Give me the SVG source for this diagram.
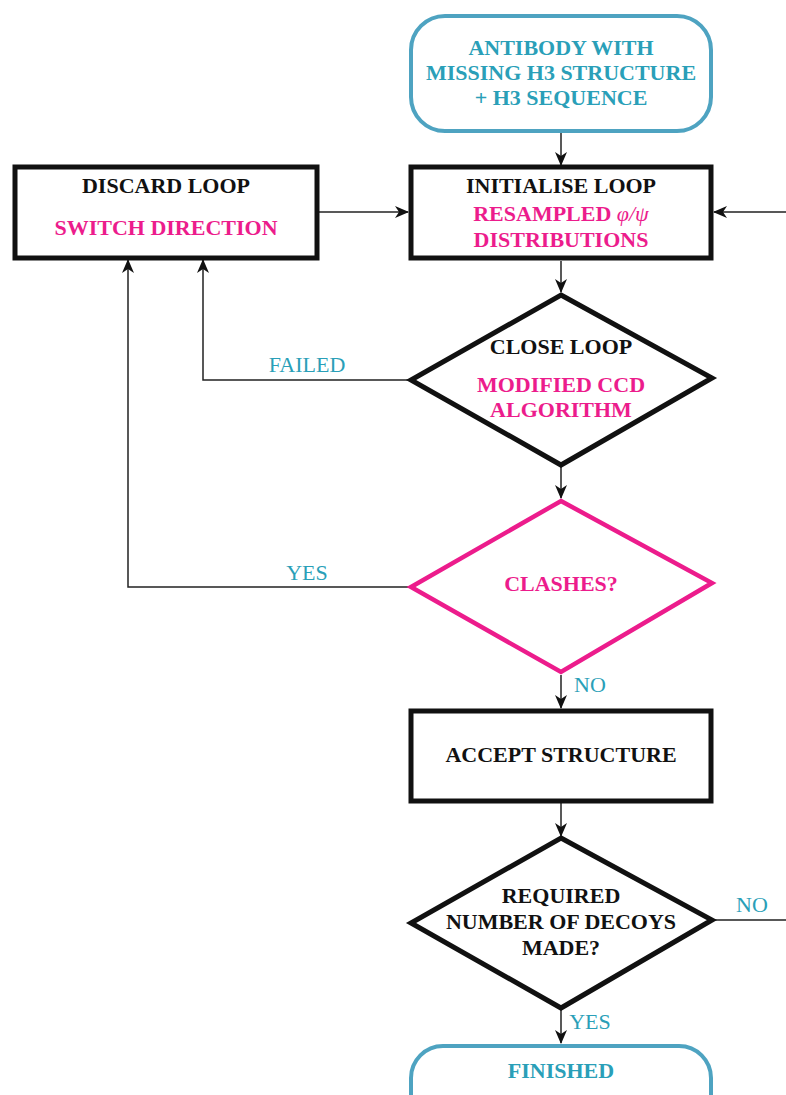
<svg xmlns="http://www.w3.org/2000/svg" width="786" height="1095" viewBox="0 0 786 1095">
  <style>
    text { font-family: "Liberation Serif", "Times New Roman", serif; font-weight: bold; font-size: 22px; text-anchor: middle; }
    .blk { fill: #111111; }
    .pnk { fill: #ec1c8c; }
    .tel { fill: #2a9fb8; }
    .lbl { fill: #2a9fb8; font-weight: normal; font-size: 22px; }
    .term { fill: #ffffff; stroke: #4ea3c1; stroke-width: 4; }
    .proc { fill: #ffffff; stroke: #111111; stroke-width: 5; }
    .dec { fill: #ffffff; stroke: #111111; stroke-width: 5; stroke-linejoin: miter; }
    .decp { fill: #ffffff; stroke: #ec1c8c; stroke-width: 4.5; stroke-linejoin: miter; }
    .edge { fill: none; stroke: #222222; stroke-width: 1.5; marker-end: url(#arr); }
  </style>
  <defs>
    <marker id="arr" viewBox="0 0 14 12" refX="13" refY="6" markerWidth="14" markerHeight="12" markerUnits="userSpaceOnUse" orient="auto">
      <path d="M0,0 L14,6 L0,12 L4,6 Z" fill="#111111"/>
    </marker>
  </defs>

  <rect width="786" height="1095" fill="#ffffff"/>

  <!-- connectors -->
  <g id="connectors">
    <path class="edge" d="M561,133 V165"/>
    <path class="edge" d="M318,212 H408"/>
    <path class="edge" d="M561,261 V292"/>
    <path class="edge" d="M410,380 H203 V260"/>
    <path class="edge" d="M561,467 V498"/>
    <path class="edge" d="M410,587 H128 V260"/>
    <path class="edge" d="M561,675 V708"/>
    <path class="edge" d="M561,803 V836"/>
    <path class="edge" d="M561,1010 V1043"/>
    <path class="edge" d="M713,920 H800 V212 H714"/>
    <text class="lbl" x="307" y="372">FAILED</text>
    <text class="lbl" x="307" y="580">YES</text>
    <text class="lbl" x="590" y="692">NO</text>
    <text class="lbl" x="752" y="912">NO</text>
    <text class="lbl" x="590" y="1029">YES</text>
  </g>

  <!-- nodes -->
  <g id="start">
    <rect class="term" x="411" y="16" width="300" height="115" rx="34" ry="34"/>
    <text class="tel" x="561" y="55">ANTIBODY WITH</text>
    <text class="tel" x="561" y="80">MISSING H3 STRUCTURE</text>
    <text class="tel" x="561" y="105">+ H3 SEQUENCE</text>
  </g>

  <g id="discard">
    <rect class="proc" x="15" y="167" width="302" height="91"/>
    <text class="blk" x="166" y="193">DISCARD LOOP</text>
    <text class="pnk" x="166" y="235">SWITCH DIRECTION</text>
  </g>

  <g id="initialise">
    <rect class="proc" x="411" y="167" width="300" height="91"/>
    <text class="blk" x="561" y="193">INITIALISE LOOP</text>
    <text class="pnk" x="561" y="221">RESAMPLED <tspan font-style="italic" font-weight="normal">φ/ψ</tspan></text>
    <text class="pnk" x="561" y="247">DISTRIBUTIONS</text>
  </g>

  <g id="close">
    <polygon class="dec" points="561,295 712,378 561,465 411,380"/>
    <text class="blk" x="561" y="354">CLOSE LOOP</text>
    <text class="pnk" x="561" y="392">MODIFIED CCD</text>
    <text class="pnk" x="561" y="417">ALGORITHM</text>
  </g>

  <g id="clashes">
    <polygon class="decp" points="561,501 712,583 561,672 411,587"/>
    <text class="pnk" x="561" y="591">CLASHES?</text>
  </g>

  <g id="accept">
    <rect class="proc" x="411" y="711" width="300" height="90"/>
    <text class="blk" x="561" y="762">ACCEPT STRUCTURE</text>
  </g>

  <g id="decoys">
    <polygon class="dec" points="561,838 712,920 561,1008 411,923"/>
    <text class="blk" x="561" y="903">REQUIRED</text>
    <text class="blk" x="561" y="929">NUMBER OF DECOYS</text>
    <text class="blk" x="561" y="955">MADE?</text>
  </g>

  <g id="finished">
    <rect class="term" x="411" y="1046" width="300" height="80" rx="32" ry="32"/>
    <text class="tel" x="561" y="1078">FINISHED</text>
  </g>
</svg>
